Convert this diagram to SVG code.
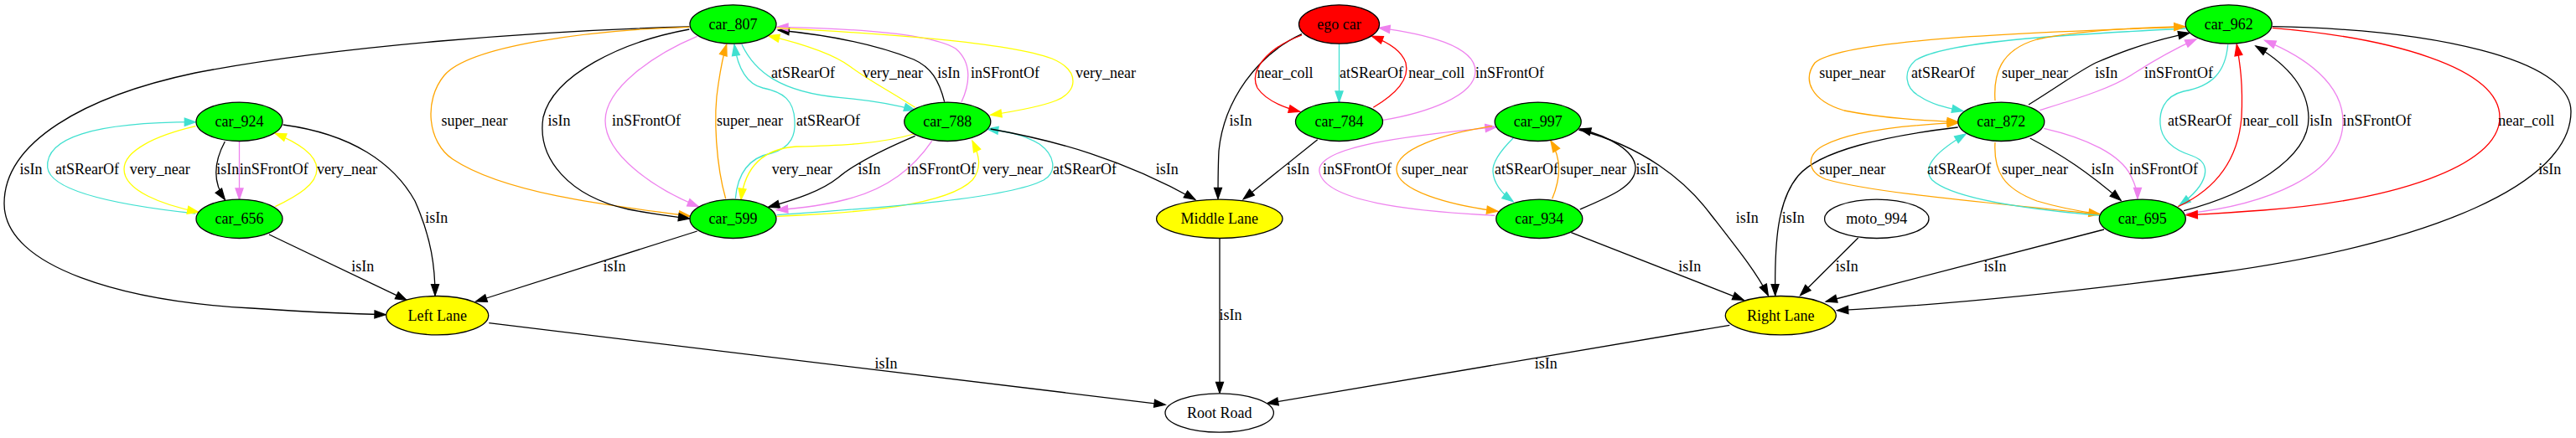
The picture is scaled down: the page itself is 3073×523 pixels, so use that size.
<svg xmlns="http://www.w3.org/2000/svg" width="3073" height="523" viewBox="0 0 3073 523">
<style>
text{font-family:"Liberation Serif","Times New Roman",serif;font-size:18px;text-anchor:middle;fill:#000}
.n{stroke:#000;stroke-width:1.3}
.g{fill:#00ff00}.yl{fill:#ffff00}.rd{fill:#ff0000}.w{fill:#fff}
.e{fill:none;stroke-width:1.3}
.k{stroke:#000;marker-end:url(#ak)}
.t{stroke:#40e0d0;marker-end:url(#at)}
.y{stroke:#ffff00;marker-end:url(#ay)}
.v{stroke:#ee82ee;marker-end:url(#av)}
.o{stroke:#ffa500;marker-end:url(#ao)}
.r{stroke:#ff0000;marker-end:url(#ar)}
</style>
<defs>
<marker id="ak" markerUnits="userSpaceOnUse" markerWidth="14" markerHeight="10" refX="13" refY="4.5" orient="auto" overflow="visible"><path d="M0,0 L13,4.5 L0,9 z" fill="#000" stroke="#000" stroke-width="1.3"/></marker>
<marker id="at" markerUnits="userSpaceOnUse" markerWidth="14" markerHeight="10" refX="13" refY="4.5" orient="auto" overflow="visible"><path d="M0,0 L13,4.5 L0,9 z" fill="#40e0d0" stroke="#40e0d0" stroke-width="1.3"/></marker>
<marker id="ay" markerUnits="userSpaceOnUse" markerWidth="14" markerHeight="10" refX="13" refY="4.5" orient="auto" overflow="visible"><path d="M0,0 L13,4.5 L0,9 z" fill="#ffff00" stroke="#ffff00" stroke-width="1.3"/></marker>
<marker id="av" markerUnits="userSpaceOnUse" markerWidth="14" markerHeight="10" refX="13" refY="4.5" orient="auto" overflow="visible"><path d="M0,0 L13,4.5 L0,9 z" fill="#ee82ee" stroke="#ee82ee" stroke-width="1.3"/></marker>
<marker id="ao" markerUnits="userSpaceOnUse" markerWidth="14" markerHeight="10" refX="13" refY="4.5" orient="auto" overflow="visible"><path d="M0,0 L13,4.5 L0,9 z" fill="#ffa500" stroke="#ffa500" stroke-width="1.3"/></marker>
<marker id="ar" markerUnits="userSpaceOnUse" markerWidth="14" markerHeight="10" refX="13" refY="4.5" orient="auto" overflow="visible"><path d="M0,0 L13,4.5 L0,9 z" fill="#ff0000" stroke="#ff0000" stroke-width="1.3"/></marker>
</defs>
<rect width="3073" height="523" fill="#fff"/>
<g id="connectors">
<path class="e k" d="M268.3,169 C257,190 252,215 268.3,238.3"/><text x="271.7" y="208">isIn</text>
<path class="e v" d="M285.5,169 L285.5,238"/><text x="326.7" y="208">inSFrontOf</text>
<path class="e t" d="M233.3,255 C150,246 60,230 56.7,200 C54,165 110,146 233.3,145.7"/><text x="104" y="208">atSRearOf</text>
<path class="e y" d="M233.3,150.7 C185,162 148,180 148,202 C148,228 195,245 236.7,253.3"/><text x="190.7" y="208">very_near</text>
<path class="e y" d="M328.3,246.7 C355,234 378,220 378,202 C378,185 355,170 328.3,159.3"/><text x="414" y="208">very_near</text>
<path class="e k" d="M337.7,149 C420,160 470,195 495,240 C515,285 519,320 519,352.7"/><text x="520.7" y="266">isIn</text>
<path class="e k" d="M321,280 L485,358.3"/><text x="432.7" y="323.7">isIn</text>
<path class="e k" d="M822.5,32 C650,36 400,55 233,87 C100,115 5,170 5,243 C5,320 150,360 300,368 C360,372 420,375 460,375.7"/><text x="37" y="208">isIn</text>
<path class="e k" d="M583.3,385.7 L1390,483.3"/><text x="1057" y="440.3">isIn</text>
<path class="e k" d="M831.7,276 L567.7,360"/><text x="733" y="323.7">isIn</text>
<path class="e o" d="M822.3,32.3 C700,36 560,55 530,90 C505,120 510,170 540,190 C600,230 720,245 823,258"/><text x="566" y="150.3">super_near</text>
<path class="e k" d="M822.3,35 C740,50 660,90 648,140 C640,190 680,235 750,250 C780,256 800,258 822.5,261"/><text x="667" y="150.3">isIn</text>
<path class="e v" d="M831.7,43.3 C780,65 722,105 722,144 C722,185 780,225 833.3,246.7"/><text x="771" y="150.3">inSFrontOf</text>
<path class="e o" d="M865.7,237.3 C855,200 850,140 857,100 C860,80 863,65 866.7,53.3"/><text x="894.5" y="150.3">super_near</text>
<path class="e t" d="M877.3,237.3 C880,205 895,188 920,183 C945,176 949,160 948,144 C947,120 935,110 910,105 C890,100 880,80 876,53.3"/><text x="988" y="150.3">atSRearOf</text>
<path class="e t" d="M885,53.3 C900,85 930,110 1003,116.7 C1040,120 1065,124 1091.7,131.7"/><text x="958" y="92.7">atSRearOf</text>
<path class="e y" d="M1091.7,128.3 C1060,108 1035,95 1015,80 C995,65 960,53 916.7,42.7"/><text x="1065" y="92.7">very_near</text>
<path class="e k" d="M1126.7,121.7 C1120,95 1110,80 1090,71 C1050,55 1000,43 928.3,36"/><text x="1131.7" y="92.7">isIn</text>
<path class="e v" d="M1147,121.7 C1157,100 1160,75 1140,58 C1110,40 1020,34 927,32.3"/><text x="1199" y="92.7">inSFrontOf</text>
<path class="e y" d="M926.7,33.3 C1050,40 1200,50 1255,70 C1290,85 1285,110 1260,120 C1240,128 1210,133 1181.7,137.3"/><text x="1319" y="92.7">very_near</text>
<path class="e y" d="M1090,160 C1050,172 1000,174 950,175 C905,178 888,205 884,238.3"/><text x="956.7" y="208">very_near</text>
<path class="e k" d="M1091.7,162.3 C1050,180 1020,195 1000,212 C980,228 950,238 916.7,247.3"/><text x="1037" y="208">isIn</text>
<path class="e v" d="M1111.7,168.3 C1090,200 1060,225 1010,238 C980,246 950,249 926.7,250.7"/><text x="1123" y="208">inSFrontOf</text>
<path class="e y" d="M926.7,258.3 C1030,254 1130,245 1160,215 C1172,200 1168,185 1160,168.3"/><text x="1208" y="208">very_near</text>
<path class="e t" d="M926.7,256.7 C1050,248 1200,238 1245,215 C1262,205 1258,185 1240,172 C1220,160 1200,157 1177.7,154"/><text x="1294" y="208">atSRearOf</text>
<path class="e k" d="M1181.7,154 C1260,168 1340,190 1425.7,238.3"/><text x="1392.3" y="208">isIn</text>
<path class="e k" d="M1455,285 L1455,469.3"/><text x="1468" y="381.7">isIn</text>
<path class="e k" d="M1553,40.7 C1500,65 1460,120 1454,180 C1453,200 1453,220 1453,237.3"/><text x="1480" y="150.3">isIn</text>
<path class="e r" d="M1553,42 C1510,58 1490,85 1500,105 C1510,120 1530,128 1550.5,133.3"/><text x="1533" y="92.7">near_coll</text>
<path class="e t" d="M1597.5,52.7 L1597.5,122"/><text x="1636" y="92.7">atSRearOf</text>
<path class="e r" d="M1638.3,128.3 C1665,112 1682,95 1677,75 C1672,60 1655,50 1636.7,43.3"/><text x="1713.7" y="92.7">near_coll</text>
<path class="e v" d="M1650,143.3 C1700,135 1760,115 1760,85 C1760,55 1700,40 1645,33.3"/><text x="1801" y="92.7">inSFrontOf</text>
<path class="e k" d="M1571.7,166.7 L1483.3,237.7"/><text x="1548.5" y="208">isIn</text>
<path class="e v" d="M1783.3,257.3 C1680,252 1580,240 1574,205 C1570,175 1680,162 1785,151.7"/><text x="1619" y="208">inSFrontOf</text>
<path class="e o" d="M1780,150.7 C1720,160 1666,178 1666,202 C1666,228 1730,245 1786.7,252.3"/><text x="1711.5" y="208">super_near</text>
<path class="e t" d="M1805,165 C1790,180 1780,195 1781,205 C1782,220 1793,232 1805,240.7"/><text x="1821" y="208">atSRearOf</text>
<path class="e o" d="M1851.7,237.3 C1862,212 1863,190 1850,168.3"/><text x="1900.8" y="208">super_near</text>
<path class="e k" d="M1884.7,250 C1920,235 1952,222 1951,200 C1950,180 1920,163 1884.7,154"/><text x="1965" y="208">isIn</text>
<path class="e k" d="M1874.3,277.7 L2080,358.3"/><text x="2015.7" y="323.7">isIn</text>
<path class="e k" d="M1883.3,155 C1960,175 2010,215 2040,255 C2075,300 2095,325 2109.3,352.7"/><text x="2084.3" y="266">isIn</text>
<path class="e k" d="M2063.3,388.3 L1511.7,481.7"/><text x="1844.3" y="440.3">isIn</text>
<path class="e k" d="M2335.7,152 C2250,162 2170,180 2145,210 C2120,240 2117,290 2117.7,352.7"/><text x="2139.3" y="266">isIn</text>
<path class="e k" d="M2216.7,284 L2147.7,352.7"/><text x="2203.3" y="323.7">isIn</text>
<path class="e k" d="M2510,274 L2178.3,360"/><text x="2380" y="323.7">isIn</text>
<path class="e k" d="M2710.7,31.7 C2900,35 3067,70 3067,133 C3067,220 2900,290 2650,325 C2450,352 2300,365 2191.7,370.7"/><text x="3041.7" y="208">isIn</text>
<path class="e o" d="M2607,32 C2450,38 2200,45 2165,75 C2150,95 2160,120 2200,132 C2250,142 2300,144 2336,145.7"/><text x="2209.8" y="92.7">super_near</text>
<path class="e t" d="M2607,34 C2450,42 2320,50 2285,72 C2270,85 2272,105 2290,115 C2305,125 2320,128 2341.7,132.7"/><text x="2318" y="92.7">atSRearOf</text>
<path class="e o" d="M2380,120 C2378,90 2385,60 2430,47 C2480,36 2550,33 2606.7,31.7"/><text x="2427.5" y="92.7">super_near</text>
<path class="e o" d="M2503.3,256 C2400,244 2240,232 2178,214 C2155,205 2155,185 2175,174 C2210,155 2280,149 2336,146.7"/><text x="2209.8" y="208">super_near</text>
<path class="e o" d="M2380,170 C2378,205 2390,225 2430,240 C2460,249 2485,253 2505,255.7"/><text x="2427.5" y="208">super_near</text>
<path class="e t" d="M2505,257.3 C2420,250 2330,238 2305,215 C2290,198 2315,178 2345,160"/><text x="2337" y="208">atSRearOf</text>
<path class="e t" d="M2657.7,53.3 C2655,85 2640,103 2605,109 C2580,115 2576,135 2577,148 C2578,165 2590,178 2615,186 C2640,195 2635,220 2600,245"/><text x="2624" y="150.3">atSRearOf</text>
<path class="e k" d="M2420,125 C2460,100 2480,85 2500,75 C2540,58 2570,48 2611.7,39.3"/><text x="2512.7" y="92.7">isIn</text>
<path class="e v" d="M2433.3,131.7 C2480,117 2520,105 2545,88 C2570,72 2595,58 2620,46.7"/><text x="2599" y="92.7">inSFrontOf</text>
<path class="e k" d="M2421.7,165 C2460,185 2490,205 2530,239.3"/><text x="2508.3" y="208">isIn</text>
<path class="e v" d="M2438.3,153.3 C2490,165 2530,185 2542,210 C2548,222 2550,230 2550,237.3"/><text x="2581" y="208">inSFrontOf</text>
<path class="e r" d="M2598.3,246.7 C2645,225 2670,190 2674,140 C2676,100 2672,75 2668.3,53.3"/><text x="2708.7" y="150.3">near_coll</text>
<path class="e k" d="M2605,251.7 C2680,232 2755,190 2754,140 C2753,100 2720,72 2691,55"/><text x="2768.7" y="150.3">isIn</text>
<path class="e v" d="M2608,255 C2700,245 2795,210 2795,145 C2795,100 2750,68 2701.7,48.3"/><text x="2835.5" y="150.3">inSFrontOf</text>
<path class="e r" d="M2710.7,33.3 C2850,45 2982,80 2982,140 C2982,200 2850,240 2700,251 C2660,254 2630,256 2608.3,256.7"/><text x="3013.8" y="150.3">near_coll</text>
</g>
<g id="car_807"><ellipse class="n g" cx="874.5" cy="29" rx="51.5" ry="23.2"/><text x="874.5" y="35">car_807</text></g>
<g id="ego_car"><ellipse class="n rd" cx="1597.5" cy="29" rx="48" ry="23.2"/><text x="1597.5" y="35">ego car</text></g>
<g id="car_962"><ellipse class="n g" cx="2658.7" cy="29" rx="51.5" ry="23.2"/><text x="2658.7" y="35">car_962</text></g>
<g id="car_924"><ellipse class="n g" cx="285.5" cy="145.3" rx="51.5" ry="23.2"/><text x="285.5" y="151.3">car_924</text></g>
<g id="car_788"><ellipse class="n g" cx="1130.3" cy="145.3" rx="51.5" ry="23.2"/><text x="1130.3" y="151.3">car_788</text></g>
<g id="car_784"><ellipse class="n g" cx="1597.5" cy="145.3" rx="52" ry="23.2"/><text x="1597.5" y="151.3">car_784</text></g>
<g id="car_997"><ellipse class="n g" cx="1834.7" cy="145.3" rx="51.5" ry="23.2"/><text x="1834.7" y="151.3">car_997</text></g>
<g id="car_872"><ellipse class="n g" cx="2387.3" cy="145.3" rx="51.5" ry="23.2"/><text x="2387.3" y="151.3">car_872</text></g>
<g id="car_656"><ellipse class="n g" cx="285.5" cy="261.3" rx="51.5" ry="23.2"/><text x="285.5" y="267.3">car_656</text></g>
<g id="car_599"><ellipse class="n g" cx="874.5" cy="261.3" rx="51.5" ry="23.2"/><text x="874.5" y="267.3">car_599</text></g>
<g id="middle_lane"><ellipse class="n yl" cx="1454.8" cy="261.3" rx="75.2" ry="23.2"/><text x="1454.8" y="267.3">Middle Lane</text></g>
<g id="car_934"><ellipse class="n g" cx="1836.3" cy="261.3" rx="51.5" ry="23.2"/><text x="1836.3" y="267.3">car_934</text></g>
<g id="moto_994"><ellipse class="n w" cx="2238.8" cy="261.3" rx="62.2" ry="23.2"/><text x="2238.8" y="267.3">moto_994</text></g>
<g id="car_695"><ellipse class="n g" cx="2555.8" cy="261.3" rx="51.5" ry="23.2"/><text x="2555.8" y="267.3">car_695</text></g>
<g id="left_lane"><ellipse class="n yl" cx="521.7" cy="376.7" rx="61" ry="23.2"/><text x="521.7" y="382.7">Left Lane</text></g>
<g id="right_lane"><ellipse class="n yl" cx="2124.3" cy="376.7" rx="66" ry="23.2"/><text x="2124.3" y="382.7">Right Lane</text></g>
<g id="root_road"><ellipse class="n w" cx="1454.7" cy="493" rx="64.7" ry="23.2"/><text x="1454.7" y="499">Root Road</text></g>
</svg>
